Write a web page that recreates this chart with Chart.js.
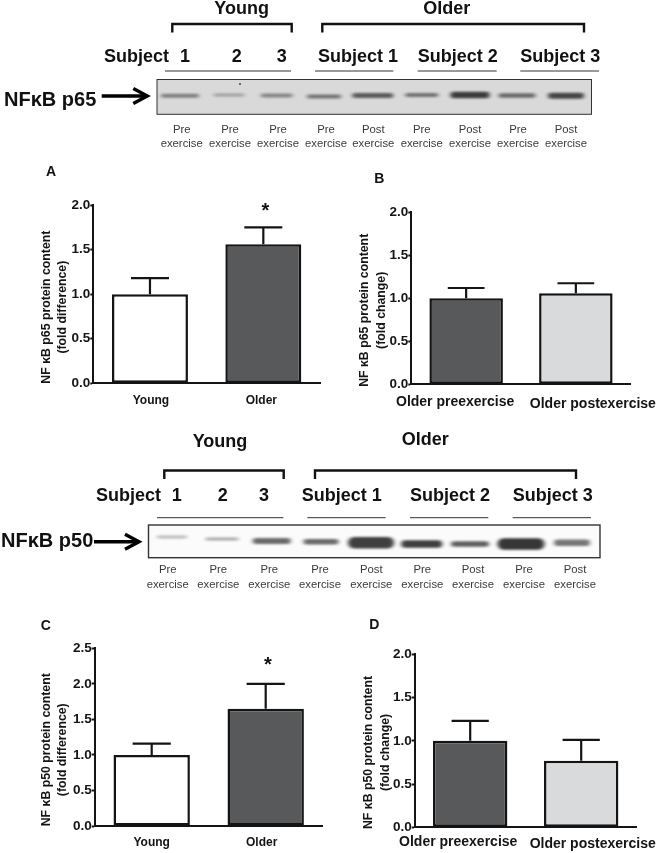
<!DOCTYPE html>
<html>
<head>
<meta charset="utf-8">
<script src="https://cdn.jsdelivr.net/npm/chart.js@4"></script>
<style>
html,body{margin:0;padding:0;background:#fff;width:658px;height:853px;overflow:hidden}
#page{position:absolute;left:0;top:0;width:658px;height:853px;filter:blur(0.35px)}
canvas{position:absolute;display:block}
svg{position:absolute;left:0;top:0}
svg text{font-family:"Liberation Sans",Arial,sans-serif;fill:#111}
svg .b{font-weight:700}
svg .lane{fill:#3a3a3a;font-size:11.3px}
</style>
</head>
<body>
<div id="page">
<svg id="ann" width="658" height="853" xmlns="http://www.w3.org/2000/svg"></svg>
<canvas id="cA"></canvas><canvas id="cB"></canvas><canvas id="cC"></canvas><canvas id="cD"></canvas>
</div>
<script>
// ---- data ----
const ageGroups = ["Young", "Older"];
const exerciseGroups = ["Older preexercise", "Older postexercise"];
const p65AgeMeans = [1.0, 1.56];
const p65AgeUpper = [1.18, 1.75];
const p65ExerciseMeans = [1.0, 1.06];
const p65ExerciseUpper = [1.12, 1.175];
const p50AgeMeans = [1.0, 1.65];
const p50AgeUpper = [1.16, 2.0];
const p50ExerciseMeans = [1.0, 0.77];
const p50ExerciseUpper = [1.23, 1.01];
const laneTop = ["Pre", "Pre", "Pre", "Pre", "Post", "Pre", "Post", "Pre", "Post"];
const p65BandStrength = [0.5, 0.32, 0.46, 0.56, 0.7, 0.58, 0.88, 0.62, 0.82];
const p50BandStrength = [0.3, 0.38, 0.68, 0.68, 0.88, 0.88, 0.72, 0.92, 0.62];

// ---- colours ----
const WHITE = "#ffffff", DARK = "#58595b", LIGHT = "#d9dadb", INK = "#141414";
const FONT = '"Liberation Sans", Arial, sans-serif';

// ---- whiskers and axis placement tweaks ----
const figurePlugin = {
  id: "figure",
  beforeDraw(chart, _a, o) {
    const xs = chart.scales.x, ys = chart.scales.y;
    if (!chart.$tuned) {
      chart.$tuned = true;
      xs.getLabelItems(chart.chartArea).forEach((it, i) => {
        it.options.translation[0] += o.labelShift[i][0];
        it.options.translation[1] += o.labelShift[i][1];
      });
      const orig = ys.drawTitle;
      ys.drawTitle = function () {
        chart.ctx.save();
        chart.ctx.translate(o.titleShift[0], o.titleShift[1]);
        orig.call(this);
        chart.ctx.restore();
      };
    }
  },
  afterDatasetsDraw(chart, _a, o) {
    const ctx = chart.ctx, ys = chart.scales.y;
    const meta = chart.getDatasetMeta(0);
    ctx.save();
    ctx.strokeStyle = INK;
    ctx.lineWidth = 2.2;
    meta.data.forEach((bar, i) => {
      const top = ys.getPixelForValue(o.upper[i]);
      const half = bar.width / 4;
      ctx.beginPath();
      ctx.moveTo(bar.x, bar.y);
      ctx.lineTo(bar.x, top);
      ctx.moveTo(bar.x - half, top);
      ctx.lineTo(bar.x + half, top);
      ctx.stroke();
    });
    ctx.restore();
  }
};

function panel(id, box, labels, means, upper, colors, yMax, titleLines, xFont, xPad, labelShift, titleX, titleDy) {
  const cv = document.getElementById(id);
  const cl = Math.floor(box.l - 66), ct = Math.floor(box.t - 15);
  const cr = Math.min(658, Math.ceil(box.r + 30)), cb = Math.min(853, Math.ceil(box.b + 30));
  cv.style.left = cl + "px"; cv.style.top = ct + "px";
  cv.width = cr - cl; cv.height = cb - ct;
  const yW = box.l - cl, xH = cb - box.b;
  new Chart(cv, {
    type: "bar",
    plugins: [figurePlugin],
    data: { labels, datasets: [{ data: means, backgroundColor: colors, borderColor: INK, borderWidth: 2.5,
      borderSkipped: false, barPercentage: 0.67, categoryPercentage: 1 }] },
    options: {
      responsive: false, animation: false,
      layout: { padding: { top: box.t - ct, right: cr - box.r, left: 0, bottom: 0 } },
      plugins: {
        legend: { display: false }, tooltip: { enabled: false },
        figure: { upper, labelShift, titleShift: [titleX - (cl + 8.2), titleDy] }
      },
      scales: {
        x: {
          grid: { display: false, drawTicks: false },
          border: { color: INK, width: 2 },
          ticks: { color: INK, font: { family: FONT, weight: "bold", size: xFont }, padding: xPad, maxRotation: 0, autoSkip: false },
          afterFit: s => { s.height = xH; }
        },
        y: {
          min: 0, max: yMax,
          grid: { display: true, drawOnChartArea: false, drawTicks: true, tickLength: 3, tickColor: INK, tickWidth: 2 },
          border: { color: INK, width: 2 },
          ticks: { stepSize: 0.5, color: INK, padding: 0, font: { family: FONT, weight: "bold", size: 13.5 },
            callback: v => v.toFixed(1) },
          title: { display: true, text: titleLines, color: INK, padding: 0,
            font: { family: FONT, weight: "bold", size: 12.3, lineHeight: 1.33 } },
          afterFit: s => { s.width = yW; }
        }
      }
    }
  });
}

panel("cA", { l: 93.3, t: 205, r: 320, b: 383.3 }, ageGroups, p65AgeMeans, p65AgeUpper, [WHITE, DARK], 2,
  ["NF \u03BAB p65 protein content", "(fold difference)"], 12, 8, [[1, 2.5], [-2, 2.5]], 46.7, 13);
panel("cB", { l: 411.3, t: 212.3, r: 630.7, b: 384.3 }, exerciseGroups, p65ExerciseMeans, p65ExerciseUpper, [DARK, LIGHT], 2,
  ["NF \u03BAB p65 protein content", "(fold change)"], 14, 8, [[-11, 1.5], [17, 3]], 365, 12);
panel("cC", { l: 94.7, t: 648.3, r: 322.7, b: 826 }, ageGroups, p50AgeMeans, p50AgeUpper, [WHITE, DARK], 2.5,
  ["NF \u03BAB p50 protein content", "(fold difference)"], 12, 8, [[0, 1.5], [-4, 1.5]], 46.7, 12.6);
panel("cD", { l: 414.7, t: 654.3, r: 636.7, b: 827.3 }, exerciseGroups, p50ExerciseMeans, p50ExerciseUpper, [DARK, LIGHT], 2,
  ["NF \u03BAB p50 protein content", "(fold change)"], 14, 8, [[-12, -1.5], [11.5, 0.5]], 369, 11.7);

// ---- annotation layer: blots, brackets, lane labels ----
const NS = "http://www.w3.org/2000/svg";
const svg = document.getElementById("ann");
function el(tag, attrs, parent) {
  const e = document.createElementNS(NS, tag);
  for (const k in attrs) e.setAttribute(k, attrs[k]);
  (parent || svg).appendChild(e);
  return e;
}
function text(str, x, y, size, anchor, cls) {
  const t = el("text", { x, y, "font-size": size, "text-anchor": anchor || "start", class: cls || "b" });
  t.textContent = str;
  return t;
}
const defs = el("defs", {});
const soft = el("filter", { id: "soft", x: "-30%", y: "-150%", width: "160%", height: "400%" }, defs);
el("feGaussianBlur", { stdDeviation: "2 1.3" }, soft);

function header(o) {
  text("Young", o.youngX, o.groupY, 18, "middle");
  text("Older", o.olderX, o.groupY2, 18, "middle");
  o.brackets.forEach(b => el("path", { d: `M${b[0]} ${o.brY + 8.5}V${o.brY}H${b[1]}V${o.brY + 8.5}`, fill: "none", stroke: "#111", "stroke-width": 2.4 }));
  text("Subject", o.subjX, o.subjY, 18);
  ["1", "2", "3"].forEach((n, i) => text(n, o.numX[i], o.subjY, 18, "middle"));
  ["Subject 1", "Subject 2", "Subject 3"].forEach((s, i) => text(s, o.subX[i], o.subjY, 18));
  o.rules.forEach(r => el("line", { x1: r[0], x2: r[1], y1: o.ruleY, y2: o.ruleY, stroke: "#333", "stroke-width": 1 }));
  el("rect", { x: o.blot[0], y: o.blot[1], width: o.blot[2], height: o.blot[3], fill: o.blotFill, stroke: "#333", "stroke-width": o.blotStroke });
  o.bands.forEach((b, i) => el("rect", { x: b[0] - b[2] / 2, y: b[1] - b[3] / 2, width: b[2], height: b[3], rx: b[3] / 2, ry: b[3] / 2, fill: "#262626", opacity: o.strength[i], filter: "url(#soft)" }));
  text(o.label, o.labelX, o.labelY, 20);
  el("path", { d: `M${o.arrow[0]} ${o.arrow[2]}H${o.arrow[1] - 3}`, stroke: "#000", "stroke-width": 3.6, fill: "none" });
  el("path", { d: `M${o.arrow[1] - 15} ${o.arrow[2] - 7.5}L${o.arrow[1] - 1} ${o.arrow[2]}L${o.arrow[1] - 15} ${o.arrow[2] + 7.5}`, stroke: "#000", "stroke-width": 3.4, fill: "none" });
  laneTop.forEach((w, i) => {
    text(w, o.laneX[i], o.laneY[0], 11.3, "middle", "lane");
    text("exercise", o.laneX[i], o.laneY[1], 11.3, "middle", "lane");
  });
}

header({
  youngX: 241.7, olderX: 446.7, groupY: 14, groupY2: 13.5, brY: 24, brackets: [[172.3, 291.7], [322.3, 584]],
  subjX: 104, subjY: 62.3, numX: [185, 236.7, 281.7], subX: [318, 417.7, 520.3],
  ruleY: 71, rules: [[165, 291], [315, 393.3], [417.7, 496.7], [520.3, 599]],
  blot: [157, 79.5, 434.5, 34.8], blotFill: "#d9d9d9", blotStroke: 1,
  bands: [[180, 95.7, 38, 4], [229, 95, 31, 3], [276.7, 95.5, 32, 4], [324, 96.5, 34, 4], [372.7, 95.5, 41, 5], [421.7, 95, 33, 4], [470, 95, 39, 6.5], [517, 95.5, 37, 4.5], [566, 95.7, 36, 6]],
  strength: p65BandStrength,
  label: "NF\u03BAB p65", labelX: 4, labelY: 106, arrow: [101.7, 148.3, 96],
  laneX: [181.7, 230, 278, 326, 373.3, 421.7, 470, 518, 566], laneY: [132.7, 147]
});
el("circle", { cx: 240, cy: 84, r: 1, fill: "#444" });

header({
  youngX: 220, olderX: 425.3, groupY: 446.7, groupY2: 445, brY: 470.5, brackets: [[164.3, 283.7], [315, 576]],
  subjX: 96, subjY: 501, numX: [176.7, 222.7, 264], subX: [301.7, 410, 512.7],
  ruleY: 517.7, rules: [[157, 283.3], [307.3, 385.7], [410, 488.3], [512.7, 591]],
  blot: [148.5, 525, 451.5, 32.7], blotFill: "#fbfbfb", blotStroke: 1.4,
  bands: [[172, 537, 30, 2.8], [222, 539, 33, 3.2], [271.7, 541, 38, 6], [321, 541.7, 35, 5.5], [371, 542.7, 46, 11.5], [421.7, 544, 41, 7.5], [470, 544, 38, 5.5], [521, 544, 47, 11.5], [572, 542.7, 36, 6.5]],
  strength: p50BandStrength,
  label: "NF\u03BAB p50", labelX: 1, labelY: 546.7, arrow: [94, 140, 541.7],
  laneX: [167.7, 218.3, 269.3, 320, 371.3, 422.3, 473, 524, 575], laneY: [573.3, 587.7]
});

// panel letters and significance stars
text("A", 46, 176.3, 14);
text("B", 374.3, 182.7, 14);
text("C", 40.7, 630, 14);
text("D", 369.3, 629.3, 14);
text("*", 265.3, 217, 20, "middle");
text("*", 268, 670.5, 20, "middle");
</script>
</body>
</html>
